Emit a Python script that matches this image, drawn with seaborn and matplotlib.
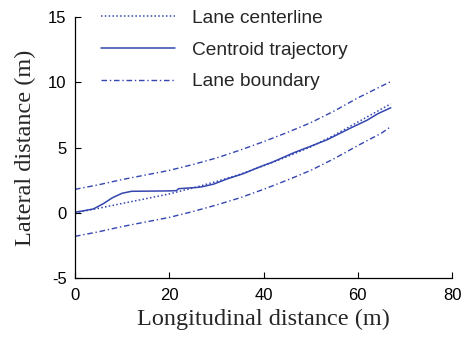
import numpy as np
import pandas as pd
import matplotlib
matplotlib.use('Agg')
import matplotlib.pyplot as plt
import seaborn as sns

# lane centerline / boundaries
lane_x = [0, 5, 10, 15, 20, 25, 30, 35, 40, 45, 50, 55, 60, 65, 67]
centerline = [0, 0.35, 0.72, 1.08, 1.45, 1.9, 2.4, 2.95, 3.6, 4.3, 5.05, 5.95, 6.95, 7.95, 8.35]
upper_bound = [1.8, 2.15, 2.55, 2.9, 3.25, 3.7, 4.2, 4.8, 5.45, 6.15, 6.9, 7.8, 8.8, 9.7, 10.05]
lower_bound = [-1.8, -1.45, -1.05, -0.7, -0.35, 0.1, 0.6, 1.15, 1.8, 2.5, 3.25, 4.15, 5.15, 6.1, 6.6]

# centroid trajectory
traj_x = [0, 1.7, 3.9, 6, 7.9, 10, 12, 20, 21.5, 22, 24, 26, 27, 29.4, 32.3,
          35.7, 39.4, 42, 46.4, 50, 53.5, 58.5, 62, 64.3, 67]
traj_y = [0.05, 0.15, 0.3, 0.7, 1.15, 1.5, 1.65, 1.68, 1.7, 1.85, 1.9, 1.95, 2.0,
          2.2, 2.6, 3.0, 3.55, 3.9, 4.6, 5.1, 5.6, 6.5, 7.1, 7.6, 8.05]

blue = '#3446b0'

sns.set_style('ticks')
plt.rcParams['xtick.direction'] = 'in'
plt.rcParams['ytick.direction'] = 'in'
plt.rcParams['axes.unicode_minus'] = False

fig = plt.figure(figsize=(4.66, 3.4), dpi=100)
ax = fig.add_axes([0.161, 0.182, 0.809, 0.768])

lane = pd.DataFrame({'x': lane_x, 'c': centerline, 'u': upper_bound, 'l': lower_bound})
traj = pd.DataFrame({'x': traj_x, 'y': traj_y})

sns.lineplot(data=lane, x='x', y='c', ax=ax, color=blue, lw=1.1, ls=(0, (1, 1.5)),
             label='Lane centerline')
sns.lineplot(data=traj, x='x', y='y', ax=ax, color=blue, lw=1.1, sort=False,
             label='Centroid trajectory')
sns.lineplot(data=lane, x='x', y='u', ax=ax, color=blue, lw=1.0, ls=(0, (4, 2, 1, 2)),
             label='Lane boundary')
sns.lineplot(data=lane, x='x', y='l', ax=ax, color=blue, lw=1.0, ls=(0, (4, 2, 1, 2)))

ax.set_xlim(0, 80)
ax.set_ylim(-5, 15)
ax.set_xticks([0, 20, 40, 60, 80])
ax.set_yticks([-5, 0, 5, 10, 15])
ax.tick_params(labelsize=12, length=4, width=0.8, colors='black')
ax.tick_params(axis='x', pad=7)
ax.tick_params(axis='y', pad=6)
for lab in ax.get_xticklabels() + ax.get_yticklabels():
    lab.set_family('Liberation Sans')
sns.despine(ax=ax)
for s in ['left', 'bottom']:
    ax.spines[s].set_color('black')
    ax.spines[s].set_linewidth(0.9)

ax.set_xlabel('Longitudinal distance (m)', family='Liberation Serif', fontsize=17.5,
              labelpad=4)
ax.set_ylabel('Lateral distance (m)', family='Liberation Serif', fontsize=17.5,
              labelpad=9)

ax.legend(loc='upper left', bbox_to_anchor=(0.022, 1.095), frameon=False,
          prop={'family': 'Liberation Sans', 'size': 13.8},
          handlelength=3.9, handletextpad=0.88, labelspacing=0.75)

fig.savefig('out.png', dpi=100)
